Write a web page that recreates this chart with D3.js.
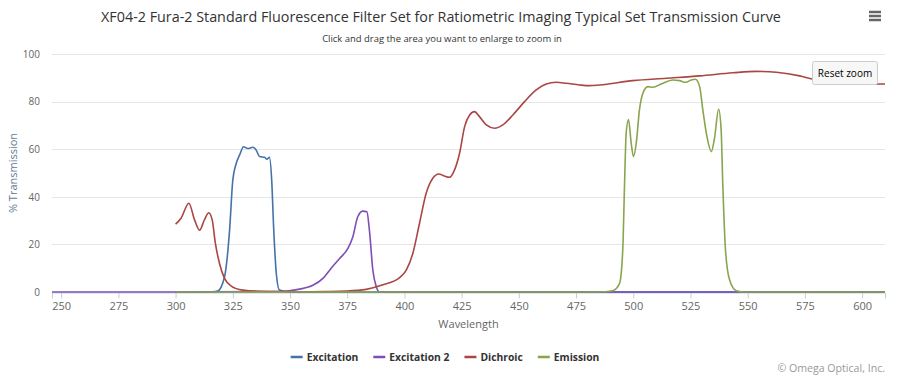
<!DOCTYPE html>
<html>
<head>
<meta charset="utf-8">
<script src="https://cdn.jsdelivr.net/npm/d3@7"></script>
<style>
  html, body { margin: 0; padding: 0; background: #fff; }
  svg { display: block; font-family: "Open Sans", "DejaVu Sans", sans-serif; }
</style>
</head>
<body>
<svg id="chart" width="899" height="377"></svg>
<script>
// ---------- DATA ----------
const chartTitle = "XF04-2 Fura-2 Standard Fluorescence Filter Set for Ratiometric Imaging Typical Set Transmission Curve";
const chartSubtitle = "Click and drag the area you want to enlarge to zoom in";
const xTicks = [250, 275, 300, 325, 350, 375, 400, 425, 450, 475, 500, 525, 550, 575, 600];
const yTicks = [0, 20, 40, 60, 80, 100];
const seriesNames = ["Excitation", "Excitation 2", "Dichroic", "Emission"];
const seriesColors = ["#4572A7", "#7D4FB5", "#AA4643", "#89A54E"];

const excitationWl  = [300, 310, 316, 318.4, 321.4, 323.6, 325, 326.5, 328, 329.7, 331.6, 333.7, 335.2, 336.7, 338.9, 339.9, 341, 342, 342.9, 344, 345.4, 350, 400, 610];
const excitationVal = [0,   0,   0.1, 0.4,   6.4,   26,    47,  54,    57.6, 61,  60.3,  60.8,  59.7,  56.9,  56.6,  55.8,  56.6, 47, 26,    8,   0.8,   0,   0,   0];

const excitation2Wl  = [246, 300, 345.4, 354.2, 360, 364.4, 368, 371.6, 375.3, 377.4, 379.6, 381.8, 383.6, 384.7, 386.2, 387.7, 389, 400, 610];
const excitation2Val = [0,   0,   0.2,   1.2,   2.8, 5.7,   10,  14,    18.3,  23,    31.6,  34,    33.7,  26,    9.2,   2.2,   0.1, 0,   0];

const dichroicWl  = [300, 302.4, 305.8, 308.3, 310.5, 312.6, 314.5, 316, 317.4, 319.2, 321.4, 324.3, 329.4, 336.7, 345, 355, 365, 374.6, 383.3, 390.6, 397.9, 400.8, 403.7, 406.6, 409.5, 412.4, 415, 417.5, 419.7, 421.9, 424.1, 426.3, 428.5, 430.6, 432.8, 435.8, 439.4, 443, 447.4, 452.5, 457.6, 462, 466.3, 470.7, 476.5, 480.9, 485.3, 499.8, 514.4, 529, 543.5, 553.7, 562.5, 572.7, 578.5, 590, 599, 610];
const dichroicVal = [28.5, 31,   37.3,  30.3,  26,    30.3,  33.3,  30.3, 20.4, 12,    5.7,   2.5,   0.8,   0.3,  0.2, 0.1, 0.2, 0.4,   1.1,   3,     6,     9.2,   16.3,  28.9,  41.5,  47.8,  49.6, 48.7, 48.2,  51.3,  58.3,  69.5,  74.4,  75.8,  73.7,  70.2,  68.8,  70.2, 74.4, 80,  84.9,  87.4, 88.1,  87.7,  87,   86.7,  87,   88.8,  89.8,  90.8, 92.1,  92.7,  92.3,  90.8,  89.4,  88.2, 87.6, 87.4];

const emissionWl  = [300, 485, 491, 494, 495.4, 496.2, 496.9, 497.9, 499.1, 500.1, 501.3, 502.7, 504.2, 506.4, 508.6, 512.2, 517.3, 520.2, 522.9, 525.3, 527.2, 529, 530.4, 532.2, 534.1, 535.5, 537.3, 538.4, 539.1, 540.3, 542.1, 545, 548, 610];
const emissionVal = [0,   0,   0.5, 3.6, 17.6,  45.7,  66.7,  72.5,  62.5,  56.9,  62.5,  76.5,  83.5,  86.3,  86,    87.4,  89.1,  88.8,  88.1,  89.1,  89.4,  86.3, 76.5, 65.3, 59,    64.6,  76.8,  68.1,  45.7,  17.6,  5,     0.5, 0,   0];

const seriesWl = [excitationWl, excitation2Wl, dichroicWl, emissionWl];
const seriesVal = [excitationVal, excitation2Val, dichroicVal, emissionVal];

// ---------- LAYOUT ----------
const svg = d3.select("#chart");
const plot = { left: 52, right: 885, top: 54, bottom: 292 };

const x = d3.scaleLinear().domain([246, 610]).range([plot.left, plot.right]);
const y = d3.scaleLinear().domain([0, 100]).range([plot.bottom, plot.top]);

function fitText(sel, target) {
  const w = sel.node().getComputedTextLength();
  const fs = parseFloat(sel.style("font-size"));
  sel.style("font-size", (fs * target / w).toFixed(2) + "px");
}

// title
const tt = svg.append("text").attr("x", 441).attr("y", 16).attr("text-anchor", "middle")
  .attr("dominant-baseline", "central")
  .style("font-size", "15px").style("fill", "#333").text(chartTitle);
fitText(tt, 680);
const st = svg.append("text").attr("x", 442).attr("y", 38).attr("text-anchor", "middle")
  .attr("dominant-baseline", "central")
  .style("font-size", "10px").style("fill", "#333").text(chartSubtitle);
fitText(st, 240);

// hamburger
const hb = svg.append("g").attr("stroke", "#666").attr("stroke-width", 2.5);
[12, 16, 20].forEach(v => hb.append("line").attr("x1", 869).attr("x2", 881).attr("y1", v).attr("y2", v));

// gridlines
svg.append("g").selectAll("line").data(yTicks.filter(d => d > 0)).join("line")
  .attr("x1", plot.left).attr("x2", plot.right)
  .attr("y1", d => Math.round(y(d)) + 0.5).attr("y2", d => Math.round(y(d)) + 0.5)
  .attr("stroke", "#e6e6e6").attr("stroke-width", 1);

// y axis labels
const yAxis = d3.axisLeft(y).tickValues(yTicks).tickSize(0).tickPadding(0);
const gy = svg.append("g").attr("transform", `translate(40,0)`).call(yAxis);
gy.select(".domain").remove();
gy.selectAll("text").style("font-size", "10px").style("fill", "#666").style("font-family", "Open Sans, sans-serif");

// x axis
const xAxis = d3.axisBottom(x).tickValues(xTicks).tickSize(6).tickPadding(4);
const gx = svg.append("g").attr("transform", `translate(0,${plot.bottom + 0.5})`).call(xAxis);
gx.select(".domain").attr("stroke", "#C0D0E0");
gx.selectAll(".tick line").attr("stroke", "#C0D0E0");
gx.selectAll("text").style("font-size", "11px").style("fill", "#666").style("font-family", "Open Sans, sans-serif");

// axis titles
svg.append("text").attr("x", (plot.left + plot.right) / 2).attr("y", 323)
  .attr("text-anchor", "middle").attr("dominant-baseline", "central")
  .style("font-size", "11px").style("fill", "#666").text("Wavelength");
svg.append("text").attr("transform", `translate(12,${(plot.top + plot.bottom) / 2}) rotate(-90)`)
  .attr("text-anchor", "middle").attr("dominant-baseline", "central")
  .style("font-size", "11px").style("fill", "#5f7a94").text("% Transmission");

// series
const line = d3.line().x(d => x(d[0])).y(d => y(d[1])).curve(d3.curveMonotoneX);
svg.append("defs").append("clipPath").attr("id", "clip")
  .append("rect").attr("x", plot.left).attr("y", plot.top - 10).attr("width", plot.right - plot.left).attr("height", plot.bottom - plot.top + 12);
const gs = svg.append("g").attr("clip-path", "url(#clip)");
seriesNames.forEach((name, i) => {
  const pts = seriesWl[i].map((w, j) => [w, seriesVal[i][j]]);
  gs.append("path").datum(pts).attr("d", line)
    .attr("fill", "none").attr("stroke", seriesColors[i]).attr("stroke-width", 1.6)
    .attr("stroke-linejoin", "round");
});

// legend
const lg = svg.append("g");
let cx = 0;
const gap = 15;
seriesNames.forEach((name, i) => {
  const it = lg.append("g").attr("transform", `translate(${cx},0)`);
  it.append("line").attr("x1", 0).attr("x2", 12).attr("y1", 0).attr("y2", 0)
    .attr("stroke", seriesColors[i]).attr("stroke-width", 2.5);
  const t = it.append("text").attr("x", 16).attr("y", 0).attr("dominant-baseline", "central")
    .style("font-size", "10.3px").style("font-weight", "bold").style("fill", "#333").text(name);
  cx += 16 + t.node().getComputedTextLength() + gap;
});
const lw = cx - gap;
lg.attr("transform", `translate(${445 - lw / 2},357)`);

// credit
svg.append("text").attr("x", 885).attr("y", 368).attr("text-anchor", "end")
  .attr("dominant-baseline", "central")
  .style("font-size", "10.6px").style("fill", "#999").text("© Omega Optical, Inc.");

// reset zoom button
const rb = svg.append("g").attr("transform", "translate(812,61)");
rb.append("rect").attr("x", 0.5).attr("y", 0.5).attr("width", 65).attr("height", 23).attr("rx", 2)
  .attr("fill", "#f7f7f7").attr("stroke", "#cccccc");
rb.append("text").attr("x", 33).attr("y", 12).attr("text-anchor", "middle").attr("dominant-baseline", "central")
  .style("font-size", "10px").style("fill", "#000").text("Reset zoom");
</script>
</body>
</html>
